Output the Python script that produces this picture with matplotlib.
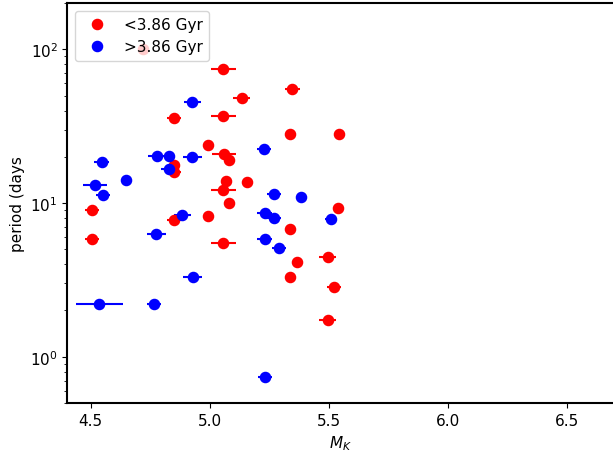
import numpy as np
import matplotlib
matplotlib.use('Agg')
import matplotlib.pyplot as plt

plt.rcParams['font.size'] = 11

# young sample (<3.86 Gyr)
young_mk = [4.721, 5.057, 5.134, 5.347, 4.851, 5.057, 5.337, 5.542, 4.991, 5.060, 5.080,
            4.851, 4.851, 5.155, 5.068, 5.057, 5.080, 5.537, 4.507, 4.851, 4.991,
            5.336, 4.507, 5.057, 5.495, 5.365, 5.335, 5.523, 5.495]
young_per = [100.0, 74.9, 48.5, 55.5, 35.9, 37.0, 28.1, 28.1, 23.7, 20.8, 19.05,
             17.8, 16.0, 13.7, 13.85, 12.1, 9.96, 9.34, 8.97, 7.78, 8.2,
             6.82, 5.87, 5.47, 4.46, 4.12, 3.32, 2.84, 1.746]
young_err = [0.02, 0.052, 0.035, 0.03, 0.03, 0.052, 0.02, 0.015, 0.02, 0.052, 0.02,
             0.015, 0.03, 0.01, 0.015, 0.052, 0.02, 0.01, 0.03, 0.03, 0.015,
             0.02, 0.03, 0.052, 0.035, 0.005, 0.02, 0.03, 0.035]

# old sample (>3.86 Gyr)
old_mk = [4.927, 4.777, 4.829, 4.927, 4.546, 5.229, 4.829, 4.647, 4.518, 4.553,
          5.271, 5.382, 4.885, 5.230, 5.269, 5.510, 4.776, 5.230, 5.292, 4.928,
          4.536, 4.767, 5.231]
old_per = [45.4, 20.3, 20.3, 19.85, 18.5, 22.6, 16.6, 14.1, 13.2, 11.3,
           11.45, 10.9, 8.32, 8.67, 8.0, 7.92, 6.29, 5.84, 5.08, 3.31,
           2.22, 2.22, 0.736]
old_err = [0.035, 0.035, 0.015, 0.04, 0.03, 0.03, 0.035, 0.01, 0.052, 0.03,
           0.03, 0.005, 0.035, 0.03, 0.03, 0.025, 0.04, 0.03, 0.03, 0.04,
           0.098, 0.03, 0.03]

fig = plt.figure(figsize=(6.13, 4.56), dpi=100)
ax = fig.add_axes([0.1101, 0.114, 0.8899, 0.877])

ax.errorbar(young_mk, young_per, xerr=young_err, fmt='none', ecolor='red', elinewidth=1.5)
ax.errorbar(old_mk, old_per, xerr=old_err, fmt='none', ecolor='blue', elinewidth=1.5)
ax.plot(young_mk, young_per, 'o', color='red', ms=7.3, label='<3.86 Gyr')
ax.plot(old_mk, old_per, 'o', color='blue', ms=7.3, label='>3.86 Gyr')

ax.set_yscale('log')
ax.set_xlim(4.4026, 6.6936)
ax.set_ylim(0.5, 200)
ax.set_xticks([4.5, 5.0, 5.5, 6.0, 6.5])
ax.set_xlabel('$M_K$')
ax.set_ylabel('period (days')
for side in ['left', 'bottom', 'top']:
    ax.spines[side].set_linewidth(1.5)
ax.spines['right'].set_visible(False)
ax.legend(loc='upper left')

fig.savefig('out.png', dpi=100)
